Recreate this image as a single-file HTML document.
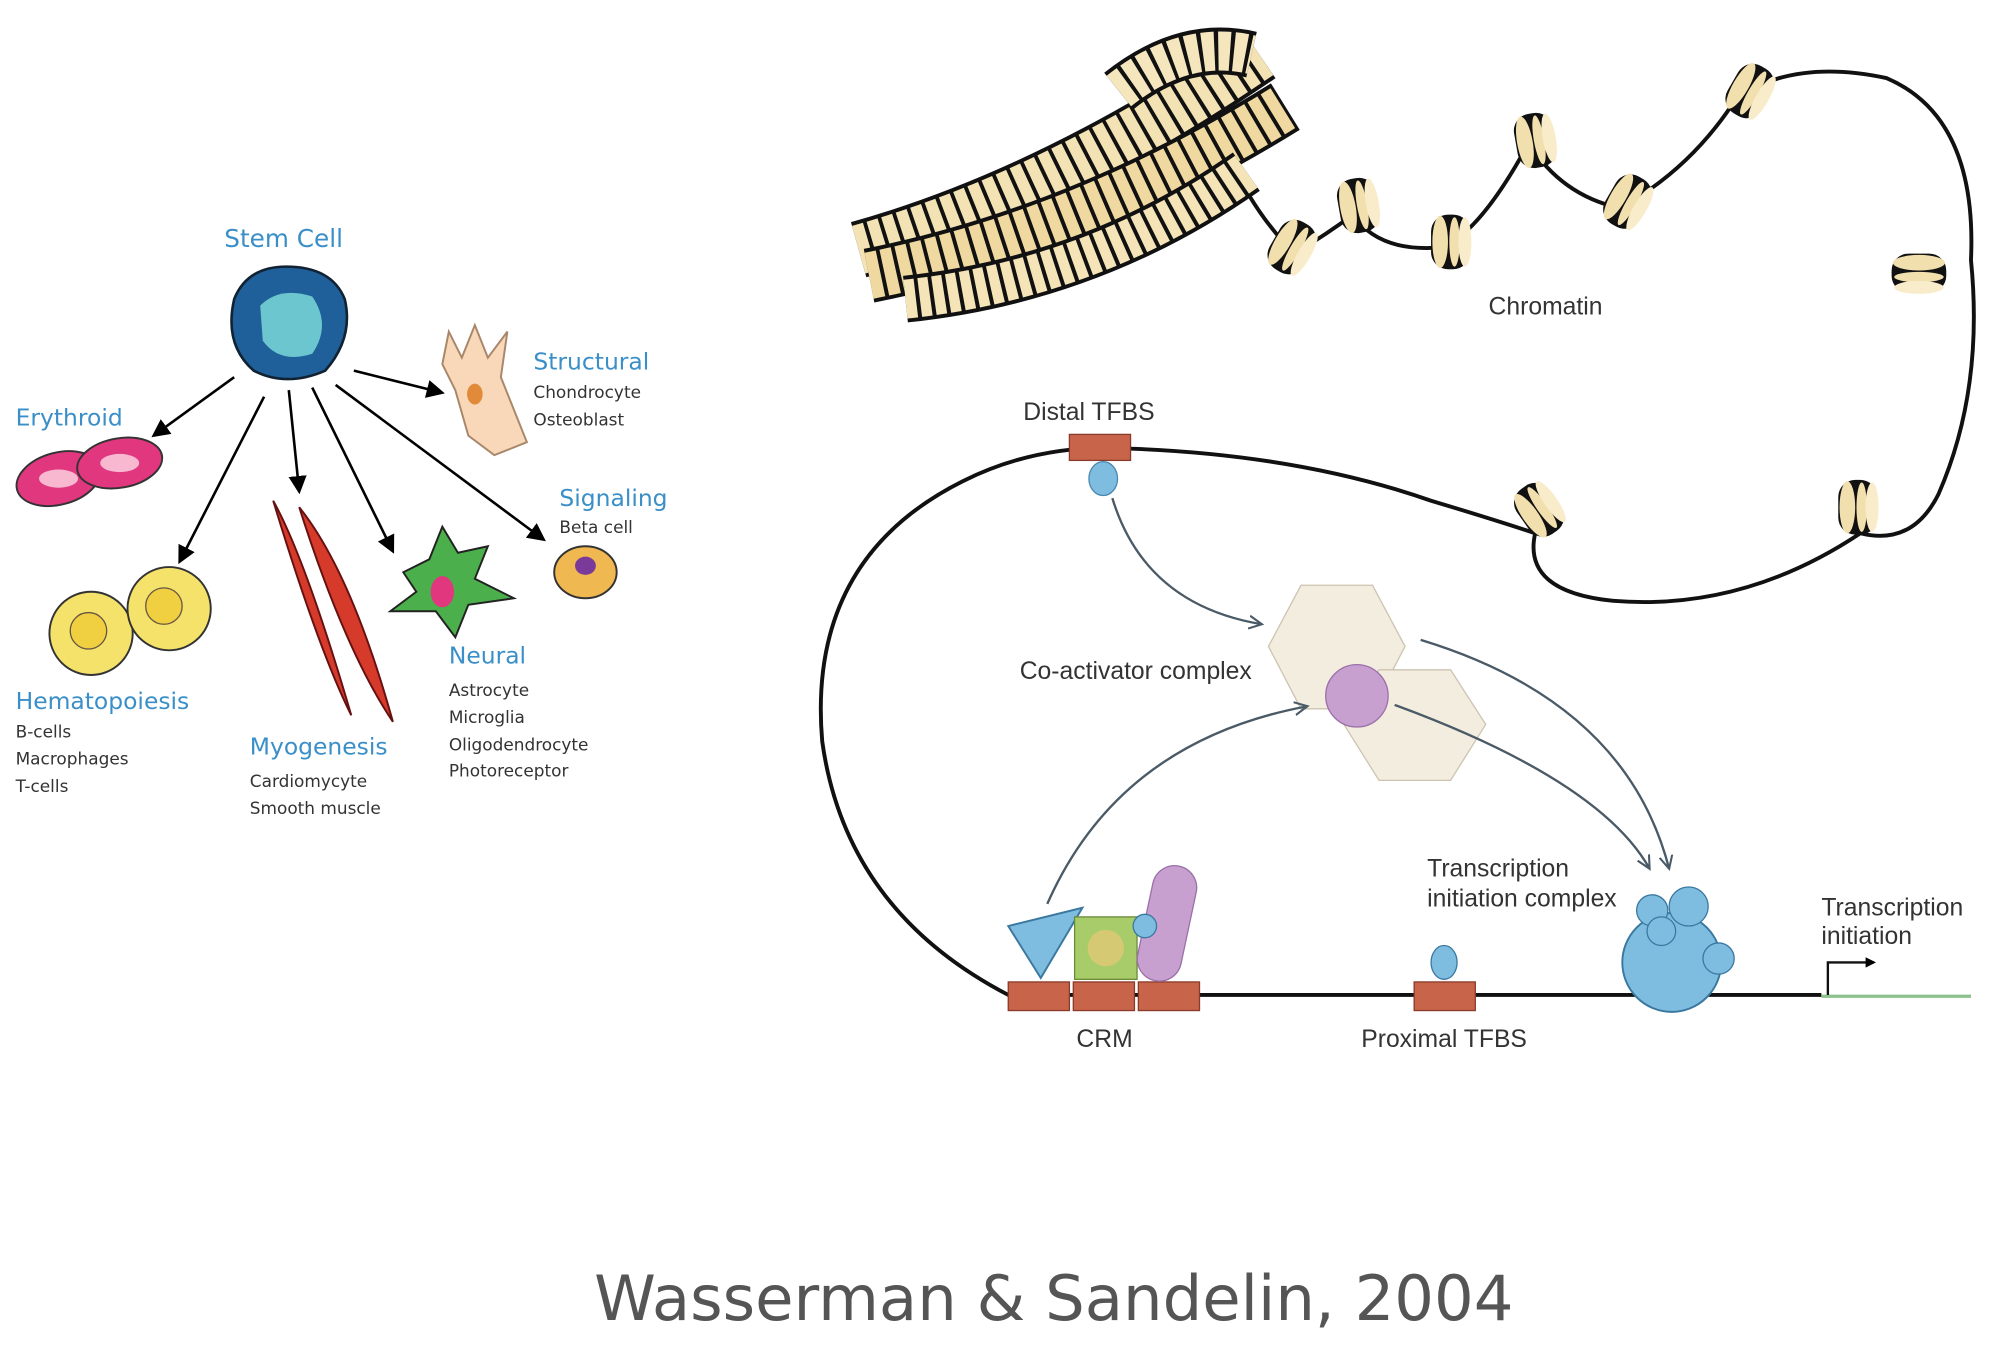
<!DOCTYPE html>
<html><head><meta charset="utf-8"><style>
html,body{margin:0;padding:0;background:#fff;}
svg{display:block}
</style></head><body>
<svg width="2010" height="1350" viewBox="0 0 1545 1038" preserveAspectRatio="none" xmlns="http://www.w3.org/2000/svg" font-family="Liberation Sans, sans-serif">
<defs>
<marker id="ah" markerWidth="8" markerHeight="8" refX="6" refY="4" orient="auto" markerUnits="userSpaceOnUse"><path d="M0,0 L8,4 L0,8 z" fill="#000"/></marker>
<marker id="ab" markerWidth="14" markerHeight="14" refX="12" refY="7" orient="auto" markerUnits="userSpaceOnUse"><path d="M0,0 L14,7 L0,14 z" fill="#000"/></marker>
<marker id="ag" markerWidth="12" markerHeight="12" refX="10" refY="6" orient="auto" markerUnits="userSpaceOnUse"><path d="M0,1 L10,6 L0,11" fill="none" stroke="#4a5a66" stroke-width="1.6"/></marker>
<g id="nuc"><rect x="-15" y="-21" width="30" height="42" rx="13" fill="#111"/><ellipse cx="-8" cy="0" rx="6" ry="20" fill="#f2dfae"/><ellipse cx="3" cy="0" rx="4" ry="19" fill="#f2dfae"/><ellipse cx="11" cy="0" rx="5" ry="19" fill="#f8eccb"/></g>
</defs>

<!-- LEFT PANEL -->
<g font-family="DejaVu Sans, Liberation Sans, sans-serif">
<text x="218" y="190" fill="#3a8fc8" font-size="19" text-anchor="middle">Stem Cell</text>
<text x="12" y="327" fill="#3a8fc8" font-size="18">Erythroid</text>
<text x="410" y="284" fill="#3a8fc8" font-size="18">Structural</text>
<text x="410" y="306" fill="#333" font-size="13">Chondrocyte</text>
<text x="410" y="327" fill="#333" font-size="13">Osteoblast</text>
<text x="430" y="389" fill="#3a8fc8" font-size="18">Signaling</text>
<text x="430" y="410" fill="#333" font-size="13">Beta cell</text>
<text x="12" y="545" fill="#3a8fc8" font-size="18">Hematopoiesis</text>
<text x="12" y="567" fill="#333" font-size="13">B-cells</text>
<text x="12" y="588" fill="#333" font-size="13">Macrophages</text>
<text x="12" y="609" fill="#333" font-size="13">T-cells</text>
<text x="192" y="580" fill="#3a8fc8" font-size="18">Myogenesis</text>
<text x="192" y="605" fill="#333" font-size="13">Cardiomycyte</text>
<text x="192" y="626" fill="#333" font-size="13">Smooth muscle</text>
<text x="345" y="510" fill="#3a8fc8" font-size="18">Neural</text>
<text x="345" y="535" fill="#333" font-size="13">Astrocyte</text>
<text x="345" y="556" fill="#333" font-size="13">Microglia</text>
<text x="345" y="577" fill="#333" font-size="13">Oligodendrocyte</text>
<text x="345" y="597" fill="#333" font-size="13">Photoreceptor</text>
</g>
<!-- stem cell -->
<path d="M180,230 Q190,205 220,205 Q255,205 265,230 Q272,260 250,285 Q220,298 195,285 Q172,265 180,230z" fill="#1f5f9a" stroke="#123" stroke-width="2"/>
<path d="M200,235 Q215,220 240,228 Q255,250 240,272 Q215,280 202,262z" fill="#6cc6cf"/>
<!-- arrows -->
<g stroke="#000" stroke-width="2" fill="none" marker-end="url(#ab)">
<line x1="180" y1="290" x2="118" y2="335"/>
<line x1="203" y1="305" x2="138" y2="432"/>
<line x1="222" y1="300" x2="230" y2="378"/>
<line x1="240" y1="298" x2="302" y2="424"/>
<line x1="258" y1="296" x2="418" y2="415"/>
<line x1="272" y1="285" x2="340" y2="302"/>
</g>
<!-- erythroid -->
<ellipse cx="45" cy="368" rx="33" ry="20" fill="#e0377f" stroke="#333" stroke-width="1.5" transform="rotate(-15 45 368)"/>
<ellipse cx="45" cy="368" rx="15" ry="7" fill="#f7b8d0"/>
<ellipse cx="92" cy="356" rx="33" ry="19" fill="#e0377f" stroke="#333" stroke-width="1.5" transform="rotate(-10 92 356)"/>
<ellipse cx="92" cy="356" rx="15" ry="7" fill="#f7b8d0"/>
<!-- hematopoiesis -->
<circle cx="70" cy="487" r="32" fill="#f5e26a" stroke="#333" stroke-width="1.5"/><circle cx="68" cy="485" r="14" fill="#f0d040" stroke="#654" />
<circle cx="130" cy="468" r="32" fill="#f5e26a" stroke="#333" stroke-width="1.5"/><circle cx="126" cy="466" r="14" fill="#f0d040" stroke="#654"/>
<!-- muscle -->
<path d="M210,385 Q235,430 270,550 Q245,500 210,385z" fill="#d63a2a" stroke="#611" stroke-width="1.5"/>
<path d="M230,390 Q270,440 302,555 Q265,500 230,390z" fill="#d63a2a" stroke="#611" stroke-width="1.5"/>
<!-- neural -->
<path d="M310,440 L330,430 L340,405 L352,425 L375,420 L365,445 L395,460 L360,465 L350,490 L335,470 L300,470 L320,455z" fill="#4bb04b" stroke="#222" stroke-width="1.5"/>
<ellipse cx="340" cy="455" rx="9" ry="12" fill="#e0377f"/>
<!-- structural -->
<path d="M345,255 L355,275 L365,250 L375,275 L390,255 L385,290 L405,340 L380,350 L360,335 L350,300 L340,280z" fill="#f8d8b8" stroke="#a8866a" stroke-width="1.5"/>
<ellipse cx="365" cy="303" rx="6" ry="8" fill="#e08a3a"/>
<!-- beta cell -->
<ellipse cx="450" cy="440" rx="24" ry="20" fill="#f0b850" stroke="#333" stroke-width="1.5"/>
<ellipse cx="450" cy="435" rx="8" ry="7" fill="#7a3a9a"/>

<!-- RIGHT PANEL: chromatin mass -->
<g fill="none" stroke-linecap="butt">
<path d="M660,192 Q810,150 968,42" stroke="#111" stroke-width="44"/>
<path d="M660,192 Q810,150 968,42" stroke="#f3e2b4" stroke-width="38" stroke-dasharray="9 3"/>
<path d="M860,70 Q910,30 962,42" stroke="#111" stroke-width="36"/>
<path d="M860,70 Q910,30 962,42" stroke="#f5e6bd" stroke-width="30" stroke-dasharray="9 3"/>
<path d="M668,212 Q830,180 988,82" stroke="#111" stroke-width="42"/>
<path d="M668,212 Q830,180 988,82" stroke="#f0d9a0" stroke-width="36" stroke-dasharray="9 3"/>
<path d="M696,230 Q840,215 958,132" stroke="#111" stroke-width="36"/>
<path d="M696,230 Q840,215 958,132" stroke="#f5e4b8" stroke-width="30" stroke-dasharray="8 3"/>
</g>
<!-- DNA line -->
<g fill="none" stroke="#111" stroke-width="3">
<path d="M960,150 Q975,175 995,195 Q1020,180 1040,165 Q1060,195 1110,190 Q1140,175 1175,110 Q1200,150 1245,160 Q1300,130 1335,75 Q1380,45 1450,60 Q1520,90 1515,200 Q1525,300 1490,380 Q1470,420 1430,410 Q1340,470 1240,462 Q1170,455 1180,410 Q1150,400 1100,385 Q1000,350 870,345 Q800,340 740,370 Q620,430 632,570 Q650,700 775,765 L1400,765"/>
</g>
<line x1="1400" y1="766" x2="1515" y2="766" stroke="#8cc08c" stroke-width="2.5"/>
<path d="M1405,765 L1405,740 L1440,740" fill="none" stroke="#111" stroke-width="1.8" marker-end="url(#ah)"/>
<!-- nucleosomes -->
<use href="#nuc" transform="translate(993,190) rotate(30)"/>
<use href="#nuc" transform="translate(1044,158) rotate(-10)"/>
<use href="#nuc" transform="translate(1115,186) rotate(0)"/>
<use href="#nuc" transform="translate(1180,108) rotate(-10)"/>
<use href="#nuc" transform="translate(1251,155) rotate(30)"/>
<use href="#nuc" transform="translate(1345,70) rotate(30)"/>
<use href="#nuc" transform="translate(1475,210) rotate(90)"/>
<use href="#nuc" transform="translate(1183,392) rotate(-35)"/>
<use href="#nuc" transform="translate(1428,390) rotate(0)"/>
<text x="1188" y="242" font-size="19" fill="#333" text-anchor="middle">Chromatin</text>
<!-- distal TFBS -->
<rect x="822" y="334" width="47" height="20" fill="#c8644a" stroke="#8a3a2a"/>
<ellipse cx="848" cy="368" rx="11" ry="13" fill="#7fbde0" stroke="#4a88b0"/>
<text x="837" y="323" font-size="19" fill="#333" text-anchor="middle">Distal TFBS</text>
<!-- co-activator -->
<polygon points="1000,450 1055,450 1080,497 1055,545 1000,545 975,497" fill="#f3ede0" stroke="#ccc4b0"/>
<polygon points="1060,515 1115,515 1142,557 1115,600 1060,600 1033,557" fill="#f3ede0" stroke="#ccc4b0"/>
<circle cx="1043" cy="535" r="24" fill="#c8a0d0" stroke="#9a70a8"/>
<text x="873" y="522" font-size="19" fill="#333" text-anchor="middle">Co-activator complex</text>
<!-- grey arrows -->
<g fill="none" stroke="#4a5a66" stroke-width="1.8" marker-end="url(#ag)">
<path d="M855,383 Q880,465 970,480"/>
<path d="M805,695 Q860,570 1005,543"/>
<path d="M1092,492 Q1250,540 1283,668"/>
<path d="M1072,542 Q1230,600 1268,668"/>
</g>
<!-- CRM -->
<rect x="775" y="755" width="47" height="22" fill="#c8644a" stroke="#8a3a2a"/>
<rect x="825" y="755" width="47" height="22" fill="#c8644a" stroke="#8a3a2a"/>
<rect x="875" y="755" width="47" height="22" fill="#c8644a" stroke="#8a3a2a"/>
<polygon points="775,712 832,698 800,752" fill="#7fbde0" stroke="#3a78a0" stroke-width="1.5"/>
<rect x="826" y="705" width="48" height="48" fill="#a8cc6a" stroke="#6a8a3a"/>
<circle cx="850" cy="729" r="14" fill="#e8c878" opacity="0.7"/>
<rect x="880" y="665" width="34" height="90" rx="17" fill="#c8a0d0" stroke="#9a70a8" transform="rotate(12 897 710)"/>
<circle cx="880" cy="712" r="9" fill="#7fbde0" stroke="#3a78a0"/>
<text x="849" y="805" font-size="19" fill="#333" text-anchor="middle">CRM</text>
<!-- proximal -->
<rect x="1087" y="755" width="47" height="22" fill="#c8644a" stroke="#8a3a2a"/>
<ellipse cx="1110" cy="740" rx="10" ry="13" fill="#7fbde0" stroke="#3a78a0"/>
<text x="1110" y="805" font-size="19" fill="#333" text-anchor="middle">Proximal TFBS</text>
<!-- TIC -->
<circle cx="1285" cy="740" r="38" fill="#7fbde0" stroke="#3a78a0" stroke-width="1.5"/>
<circle cx="1270" cy="700" r="12" fill="#7fbde0" stroke="#3a78a0"/>
<circle cx="1298" cy="697" r="15" fill="#7fbde0" stroke="#3a78a0"/>
<circle cx="1277" cy="716" r="11" fill="#7fbde0" stroke="#3a78a0"/>
<circle cx="1321" cy="737" r="12" fill="#7fbde0" stroke="#3a78a0"/>
<text x="1097" y="674" font-size="19" fill="#333">Transcription</text>
<text x="1097" y="697" font-size="19" fill="#333">initiation complex</text>
<text x="1400" y="704" font-size="19" fill="#333">Transcription</text>
<text x="1400" y="726" font-size="19" fill="#333">initiation</text>

<text x="810" y="1015" font-size="48" fill="#555" text-anchor="middle" font-family="DejaVu Sans, Liberation Sans, sans-serif">Wasserman &amp; Sandelin, 2004</text>
</svg>
</body></html>
